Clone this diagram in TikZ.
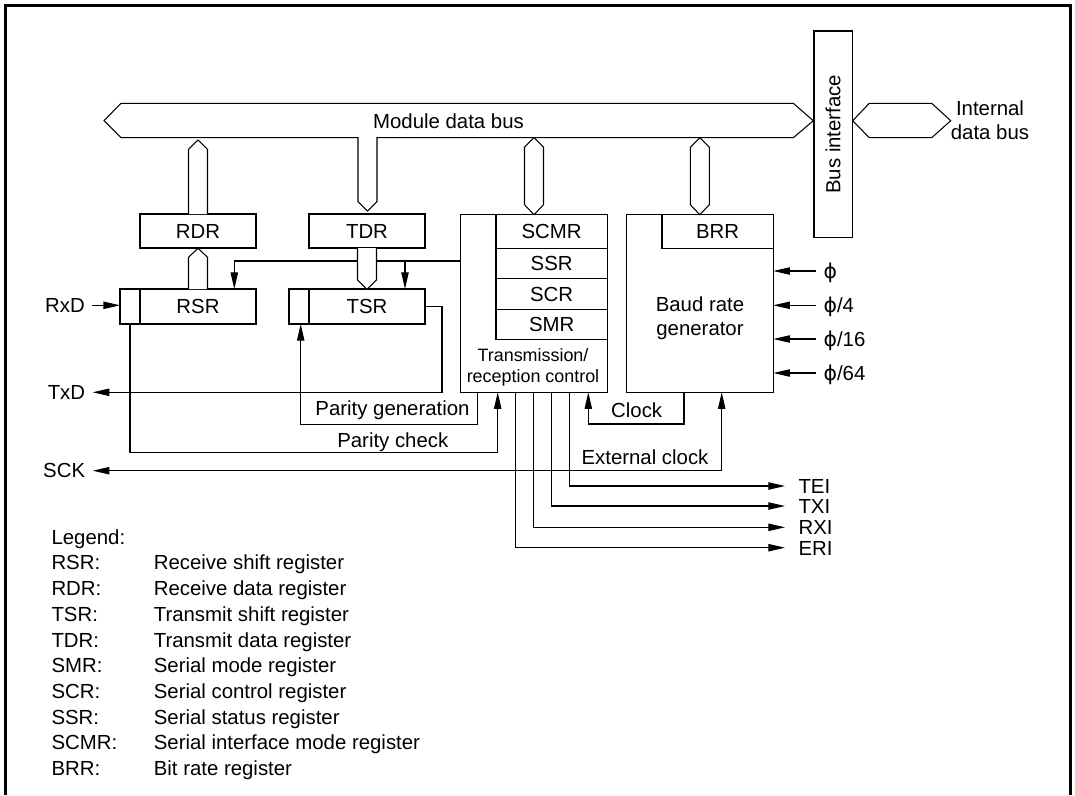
\documentclass[tikz,border=0pt]{standalone}
\usepackage{fontspec}
\setmainfont{Liberation Sans}
\newfontfamily\phifont{DejaVu Sans}
\usetikzlibrary{positioning,arrows.meta}

\begin{document}
\begin{tikzpicture}[x=0.02cm, y=-0.02cm, line width=0.6pt,
  >={Triangle[length=9.5pt,width=4.2pt]},
  every node/.style={font=\fontsize{11.6}{14}\selectfont},
  box/.style={draw, fill=white, inner sep=0pt, outer sep=0pt, minimum width=2.32cm, minimum height=0.68cm},
  reg/.style={box, minimum width=2.226cm, minimum height=0.604cm},
  cell/.style={box, minimum width=0.4cm, minimum height=0.7cm},
  lbl/.style={inner sep=0pt, text height=8.3pt, text depth=0pt},
  pin/.style={lbl, inner xsep=4pt},
  bus/.style={draw, fill=white, line join=miter}]
  \useasboundingbox (0,0) rectangle (1075,795);
  \draw[line width=1.2pt] (5.5,795) -- (5.5,5.5) -- (1070.5,5.5) -- (1070.5,795);

  \draw[bus] (104,120.7) -- (121,103.3) -- (793.3,103.3) -- (813.3,120.7) -- (793.3,137.7) -- (377,137.7) -- (377,201.7) -- (367.5,211) -- (358,201.7) -- (358,137.7) -- (121,137.7) -- cycle;
  \node (MDB) at (448.5,121) [lbl] {Module data bus};
  \node (BI) at (833.15,134.15) [box, minimum width=4.126cm, minimum height=0.766cm, rotate=90] {Bus interface};
  \draw[bus] (852.7,120.7) -- (869.3,103.3) -- (931.7,103.3) -- (950.7,120.7) -- (931.7,137.7) -- (869.3,137.7) -- cycle;
  \node (IDB) at (990,120.5) [align=center, font=\fontsize{11.6}{13.8}\selectfont] {Internal\\data bus};

  \node (RDR) at (198,231) [box] {RDR};
  \node (TDR) at (367,231) [box] {TDR};
  \node (RSR) at (198,306.5) [box, minimum height=0.7cm] {RSR};
  \node (RSRc) [cell, left=0pt of RSR] {};
  \node (TSR) at (367,306.5) [box, minimum height=0.7cm] {TSR};
  \node (TSRc) [cell, left=0pt of TSR] {};

  \node (ctrl) at (534,303.5) [box, minimum width=2.932cm, minimum height=3.552cm] {};
  \node (SCMR) at (551.65,231.7) [reg, minimum height=0.68cm] {SCMR};
  \node (SSR) [reg, below=0pt of SCMR] {SSR};
  \node (SCR) [reg, below=0pt of SSR] {SCR};
  \node (SMR) [reg, below=0pt of SCR] {SMR};
  \node (TRC) at (533,367.5) [align=center, font=\fontsize{10.2}{12.25}\selectfont] {Transmission/\\reception control};

  \node (baud) at (699.8,303.5) [box, minimum width=2.94cm, minimum height=3.552cm] {};
  \node (BRR) at (717.65,231.7) [reg, minimum height=0.68cm] {BRR};
  \node (BRG) at (700,318) [align=center, font=\fontsize{11.6}{13.6}\selectfont] {Baud rate\\generator};

  \draw[bus] (RDR.north) ++(-9.5,0) -- ++(0,-64.7) -- ++(9.5,-9.3) -- ++(9.5,9.3) -- ++(0,64.7);
  \draw[bus] (RSR.north) ++(-9.5,0) -- ++(0,-31.7) -- ++(9.5,-9) -- ++(9.5,9) -- ++(0,31.7);
  \draw[bus] (ctrl.north) -- ++(-9.5,-10) -- ++(0,-57.5) -- ++(9.5,-9.5) -- ++(9.5,9.5) -- ++(0,57.5) -- cycle;
  \draw[bus] (baud.north) -- ++(-9.5,-10) -- ++(0,-57.5) -- ++(9.5,-9.5) -- ++(9.5,9.5) -- ++(0,57.5) -- cycle;

  \node (RxD) at (92.3,305.3) [pin, anchor=east] {RxD};
  \node (TxD) at (92.7,392.3) [pin, anchor=east] {TxD};
  \node (SCK) at (92.7,470.7) [pin, anchor=east] {SCK};
  \node (P1) at (816,271) [pin, anchor=west] {{\phifont ϕ}};
  \node (P2) at (816,305.3) [pin, anchor=west] {{\phifont ϕ}/4};
  \node (P3) at (816,339) [pin, anchor=west] {{\phifont ϕ}/16};
  \node (P4) at (816,373) [pin, anchor=west] {{\phifont ϕ}/64};
  \node (TEI) at (785,486) [pin, inner xsep=7.4pt, anchor=west] {TEI};
  \node (TXI) at (785,506) [pin, inner xsep=7.4pt, anchor=west] {TXI};
  \node (RXI) at (785,527.3) [pin, inner xsep=7.4pt, anchor=west] {RXI};
  \node (ERI) at (785,547.7) [pin, inner xsep=7.4pt, anchor=west] {ERI};

  \draw[->] (RxD.east) -- (RxD.east -| RSRc.west);
  \draw[->] (ctrl.west |- 0,261) -| (234.3,0 |- RSR.north);
  \coordinate (tap) at (405,261);
  \draw[->] (tap) -- (tap |- TSR.north);
  \draw[bus] (TDR.south) ++(-9.5,0) -- ++(0,32) -- ++(9.5,9.3) -- ++(9.5,-9.3) -- ++(0,-32);
  \draw[->] (TSR.east) -- ++(17,0) |- (TxD.east);
  \draw[->] (RSRc.south) -- ++(0,128.3) -| (497.7,0 |- ctrl.south);
  \node (PC) at (392.8,440) [lbl] {Parity check};
  \draw[->] (477.3,0 |- ctrl.south) -- ++(0,32) -| (300.7,0 |- TSRc.south);
  \node (PG) at (392.5,408.3) [lbl] {Parity generation};
  \draw[->] (684,0 |- baud.south) -- ++(0,31.7) -| (588.3,0 |- ctrl.south);
  \node (CLK) at (636.7,410) [lbl] {Clock};
  \draw[<->] (SCK.east) -| (721.7,0 |- baud.south);
  \node (EXT) at (645,456.7) [lbl] {External clock};
  \draw[->] (569.3,0 |- ctrl.south) |- (TEI.west);
  \draw[->] (551.7,0 |- ctrl.south) |- (TXI.west);
  \draw[->] (533.3,0 |- ctrl.south) |- (RXI.west);
  \draw[->] (515.7,0 |- ctrl.south) |- (ERI.west);
  \draw[->] (P1.west) -- (P1.west -| baud.east);
  \draw[->] (P2.west) -- (P2.west -| baud.east);
  \draw[->] (P3.west) -- (P3.west -| baud.east);
  \draw[->] (P4.west) -- (P4.west -| baud.east);

  \node (LG) at (51,536.9) [lbl, anchor=west] {Legend:};
  \node (K1) at (51,562.6) [lbl, anchor=west] {RSR:};
  \node (D1) at (153.3,562.6) [lbl, anchor=west] {Receive shift register};
  \node (K2) at (51,588.3) [lbl, anchor=west] {RDR:};
  \node (D2) at (153.3,588.3) [lbl, anchor=west] {Receive data register};
  \node (K3) at (51,614) [lbl, anchor=west] {TSR:};
  \node (D3) at (153.3,614) [lbl, anchor=west] {Transmit shift register};
  \node (K4) at (51,639.7) [lbl, anchor=west] {TDR:};
  \node (D4) at (153.3,639.7) [lbl, anchor=west] {Transmit data register};
  \node (K5) at (51,665.4) [lbl, anchor=west] {SMR:};
  \node (D5) at (153.3,665.4) [lbl, anchor=west] {Serial mode register};
  \node (K6) at (51,691.1) [lbl, anchor=west] {SCR:};
  \node (D6) at (153.3,691.1) [lbl, anchor=west] {Serial control register};
  \node (K7) at (51,716.8) [lbl, anchor=west] {SSR:};
  \node (D7) at (153.3,716.8) [lbl, anchor=west] {Serial status register};
  \node (K8) at (51,742.5) [lbl, anchor=west] {SCMR:};
  \node (D8) at (153.3,742.5) [lbl, anchor=west] {Serial interface mode register};
  \node (K9) at (51,768.2) [lbl, anchor=west] {BRR:};
  \node (D9) at (153.3,768.2) [lbl, anchor=west] {Bit rate register};
\end{tikzpicture}
\end{document}
